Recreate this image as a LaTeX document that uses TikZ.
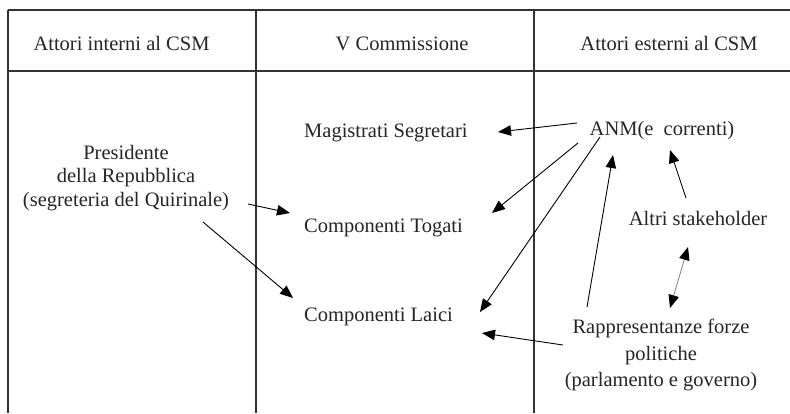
\documentclass[tikz,border=0pt]{standalone}
\usepackage{fontspec}
\setmainfont{Liberation Serif}
\usetikzlibrary{arrows.meta}
\begin{document}
\begin{tikzpicture}[x=1pt,y=-1pt,
  txt/.style={inner sep=0pt,font=\fontsize{20.5}{23.5}\selectfont,text=black!85},
  rule/.style={draw=black!80,line width=1.1pt},
  arr/.style={draw=black,line width=0.9pt,-{Triangle[length=13pt,width=10.5pt]}},
  garr/.style={draw=black!50,line width=0.8pt,{Triangle[length=13pt,width=10.5pt,black]}-{Triangle[length=13pt,width=10.5pt,black]}}]
\useasboundingbox (0,0) rectangle (790,413);
\fill[white] (0,0) rectangle (790,413);
% table
\draw[rule] (8,10) -- (790,10);
\draw[rule] (8,71) -- (790,71);
\draw[rule] (8,10) -- (8,413);
\draw[rule] (256,10) -- (256,413);
\draw[rule] (534,10) -- (534,413);
% headers
\node[txt,anchor=base] (h1) at (121.5,50) {Attori interni al CSM};
\node[txt,anchor=base] (h2) at (402,50) {V Commissione};
\node[txt,anchor=base] (h3) at (669,50) {Attori esterni al CSM};
% nodes
\node[txt,align=center] (pres) at (126,178) {Presidente\\della Repubblica\\(segreteria del Quirinale)};
\node[txt,anchor=base west] (mag) at (304,137) {Magistrati Segretari};
\node[txt,anchor=base west] (tog) at (304,232) {Componenti Togati};
\node[txt,anchor=base west] (lai) at (304,321) {Componenti Laici};
\node[txt,anchor=base] (anm) at (662,135) {ANM(e\ \ correnti)};
\node[txt,anchor=base] (altri) at (698,225) {Altri stakeholder};
\node[txt,align=center,font=\fontsize{20.5}{26.5}\selectfont] (rapp) at (661,355) {Rappresentanze forze\\politiche\\(parlamento e governo)};
% connector end points
\coordinate (anm-a) at (577,123);
\coordinate (anm-b) at (578,143);
\coordinate (anm-c) at (600,137);
\coordinate (anm-d) at (613,155);
\coordinate (anm-e) at (670,150);
\coordinate (mag-a) at (498,132);
\coordinate (tog-a) at (492,213);
\coordinate (tog-b) at (290,213);
\coordinate (lai-a) at (480,312);
\coordinate (lai-b) at (482,333);
\coordinate (lai-c) at (293,298);
\coordinate (rapp-a) at (587,307);
\coordinate (rapp-b) at (670,308);
\coordinate (rapp-c) at (563,345);
\coordinate (altri-a) at (686,198);
\coordinate (altri-b) at (688,247);
\coordinate (pres-a) at (248,204);
\coordinate (pres-b) at (203,222);
% connectors
\draw[arr] (anm-a) -- (mag-a);
\draw[arr] (anm-b) -- (tog-a);
\draw[arr] (anm-c) -- (lai-a);
\draw[arr] (rapp-a) -- (anm-d);
\draw[arr] (altri-a) -- (anm-e);
\draw[garr] (altri-b) -- (rapp-b);
\draw[arr] (rapp-c) -- (lai-b);
\draw[arr] (pres-a) -- (tog-b);
\draw[arr] (pres-b) -- (lai-c);
\end{tikzpicture}
\end{document}
